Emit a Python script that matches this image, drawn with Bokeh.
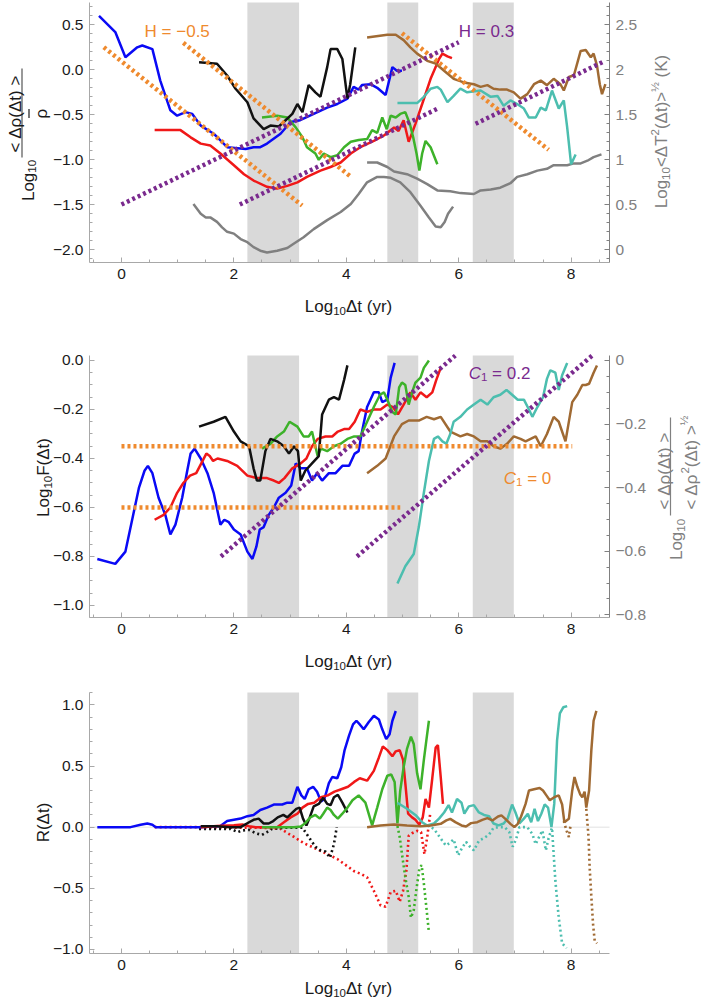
import math
from bokeh.plotting import figure
from bokeh.layouts import column
from bokeh.models import (Range1d, LinearAxis, FixedTicker, BoxAnnotation,
                          Label, CustomJSTickFormatter)
from bokeh.embed import file_html
from bokeh.resources import INLINE

# ======================= DATA =======================
# shaded intervals (Log10 dt)
bands = [(2.24, 3.16), (4.73, 5.28), (6.25, 6.98)]

# ---- Panel 1 : Log10 <drho>/rho  (left axis) ----
blue1_x = [-0.40, -0.11, 0.07, 0.28, 0.37, 0.55, 0.69, 0.87, 0.99, 1.14, 1.26, 1.41, 1.64, 1.88, 2.21, 2.35, 2.47, 2.59, 2.83, 3.01, 3.18, 3.42, 3.66, 3.84, 4.02, 4.13, 4.22, 4.28, 4.43, 4.55, 4.70, 4.82, 4.90, 4.99]
blue1_y = [0.60, 0.42, 0.14, 0.25, 0.27, 0.23, -0.12, -0.45, -0.51, -0.47, -0.49, -0.62, -0.71, -0.86, -0.88, -0.86, -0.86, -0.82, -0.71, -0.58, -0.56, -0.49, -0.42, -0.38, -0.32, -0.19, -0.22, -0.17, -0.16, -0.20, -0.28, 0.03, -0.01, -0.01]
black1_x = [1.38, 1.70, 1.88, 2.03, 2.24, 2.35, 2.53, 2.65, 2.80, 2.92, 3.04, 3.13, 3.22, 3.33, 3.45, 3.54, 3.66, 3.72, 3.84, 3.93, 4.02, 4.07, 4.16]
black1_y = [0.085, 0.067, -0.063, -0.21, -0.36, -0.54, -0.66, -0.62, -0.63, -0.56, -0.49, -0.38, -0.47, -0.17, -0.25, -0.30, 0.03, 0.23, 0.23, 0.12, -0.32, -0.16, 0.25]
red1_x = [0.59, 1.05, 1.23, 1.41, 1.58, 1.76, 2.00, 2.18, 2.35, 2.59, 2.77, 2.95, 3.13, 3.30, 3.54, 3.72, 3.90, 4.08, 4.25, 4.49, 4.67, 4.85, 4.93, 5.02, 5.11, 5.23, 5.35, 5.50, 5.59, 5.65, 5.71, 5.80, 5.88]
red1_y = [-0.67, -0.67, -0.75, -0.82, -0.84, -0.93, -1.06, -1.16, -1.23, -1.30, -1.32, -1.29, -1.25, -1.19, -1.12, -1.08, -1.03, -0.93, -0.86, -0.79, -0.73, -0.64, -0.68, -0.56, -0.80, -0.60, -0.38, -0.10, 0.03, 0.12, 0.18, 0.15, 0.13]
green1_x = [2.50, 2.77, 2.95, 3.10, 3.22, 3.30, 3.45, 3.51, 3.60, 3.72, 3.84, 3.96, 4.08, 4.22, 4.37, 4.46, 4.55, 4.64, 4.72, 4.79, 4.88, 4.96, 5.05, 5.13, 5.19, 5.25, 5.30, 5.35, 5.41, 5.50, 5.62]
green1_y = [-0.53, -0.51, -0.53, -0.64, -0.75, -0.86, -0.93, -1.00, -0.93, -0.97, -0.95, -0.86, -0.80, -0.78, -0.77, -0.67, -0.70, -0.53, -0.66, -0.51, -0.53, -0.49, -0.47, -0.60, -0.75, -0.93, -1.12, -0.93, -0.79, -0.86, -1.05]
brown1_x = [4.37, 4.73, 4.88, 5.02, 5.14, 5.26, 5.44, 5.59, 5.74, 5.91, 6.09, 6.27, 6.39, 6.51, 6.62, 6.74, 6.86, 6.98, 7.10, 7.22, 7.34, 7.46, 7.57, 7.69, 7.81, 7.87, 7.96, 8.05, 8.17, 8.26, 8.35, 8.40, 8.46, 8.51, 8.55, 8.61]
brown1_y = [0.36, 0.39, 0.39, 0.33, 0.25, 0.18, 0.10, 0.07, -0.01, -0.10, -0.14, -0.16, -0.19, -0.17, -0.21, -0.22, -0.22, -0.25, -0.32, -0.27, -0.16, -0.12, -0.17, -0.10, -0.16, -0.23, -0.08, -0.06, 0.21, 0.22, 0.14, 0.18, 0.05, -0.16, -0.27, -0.16]
teal1_x = [4.91, 5.26, 5.38, 5.50, 5.62, 5.68, 5.80, 5.91, 6.03, 6.15, 6.39, 6.57, 6.69, 6.80, 6.92, 7.04, 7.16, 7.25, 7.37, 7.46, 7.55, 7.66, 7.78, 7.87, 7.93, 8.00, 8.08]
teal1_y = [-0.37, -0.37, -0.30, -0.21, -0.19, -0.22, -0.36, -0.29, -0.21, -0.25, -0.23, -0.30, -0.29, -0.40, -0.34, -0.38, -0.43, -0.53, -0.53, -0.42, -0.45, -0.23, -0.43, -0.34, -0.64, -1.05, -0.94]
# temperature fluctuations, right axis (K)
grayA_x = [1.28, 1.41, 1.50, 1.58, 1.70, 1.79, 1.88, 2.00, 2.12, 2.24, 2.35, 2.47, 2.59, 2.77, 2.95, 3.07, 3.24, 3.42, 3.66, 3.90, 4.08, 4.22, 4.37, 4.55, 4.67, 4.79, 4.96, 5.14, 5.32, 5.47, 5.59, 5.68, 5.75, 5.81, 5.90]
grayA_y = [0.51, 0.40, 0.36, 0.36, 0.31, 0.25, 0.20, 0.18, 0.12, 0.085, 0.03, -0.01, -0.03, -0.01, 0.02, 0.07, 0.14, 0.23, 0.33, 0.42, 0.51, 0.62, 0.75, 0.81, 0.81, 0.80, 0.75, 0.64, 0.49, 0.36, 0.26, 0.25, 0.31, 0.40, 0.48]
grayB_x = [4.37, 4.55, 4.73, 4.85, 5.08, 5.26, 5.44, 5.62, 5.85, 6.03, 6.27, 6.39, 6.57, 6.74, 6.92, 7.04, 7.22, 7.40, 7.57, 7.69, 7.93, 8.05, 8.17, 8.29, 8.40, 8.54]
grayB_y = [0.97, 0.97, 0.92, 0.87, 0.84, 0.79, 0.73, 0.66, 0.65, 0.63, 0.62, 0.66, 0.67, 0.69, 0.74, 0.81, 0.84, 0.88, 0.90, 0.94, 0.94, 0.96, 0.96, 0.99, 1.03, 1.06]
# reference slopes H = -0.5 and H = 0.3
hneg_xs = [[-0.315, 3.215], [1.10, 4.075], [4.99, 7.60]]
hneg_ys = [[0.251, -1.508], [0.30, -1.186], [0.407, -0.889]]
hpos_xs = [[0.0, 6.0], [2.105, 5.62], [6.30, 8.58]]
hpos_ys = [[-1.497, 0.307], [-1.497, -0.433], [-0.60, 0.092]]

# ---- Panel 2 : Log10 F(dt) ----
blue2_x = [-0.43, -0.11, 0.07, 0.19, 0.31, 0.41, 0.47, 0.55, 0.66, 0.78, 0.87, 0.96, 1.08, 1.17, 1.23, 1.30, 1.41, 1.53, 1.64, 1.76, 1.83, 1.91, 2.00, 2.12, 2.24, 2.33, 2.40, 2.46, 2.53, 2.62, 2.71, 2.80, 2.92, 3.02, 3.10, 3.19, 3.30, 3.39, 3.48, 3.57, 3.69, 3.81, 3.93, 4.05, 4.15, 4.22, 4.28, 4.37, 4.49, 4.58, 4.64, 4.73, 4.79, 4.86]
blue2_y = [-0.81, -0.83, -0.78, -0.65, -0.52, -0.45, -0.43, -0.46, -0.56, -0.63, -0.71, -0.67, -0.56, -0.45, -0.38, -0.36, -0.40, -0.46, -0.54, -0.67, -0.65, -0.66, -0.69, -0.71, -0.78, -0.81, -0.76, -0.69, -0.68, -0.63, -0.60, -0.56, -0.54, -0.51, -0.42, -0.44, -0.44, -0.49, -0.46, -0.49, -0.46, -0.46, -0.43, -0.43, -0.38, -0.37, -0.29, -0.19, -0.13, -0.13, -0.17, -0.16, -0.07, -0.01]
black2_x = [1.38, 1.64, 1.85, 2.00, 2.12, 2.27, 2.35, 2.41, 2.47, 2.56, 2.65, 2.77, 2.89, 2.98, 3.07, 3.14, 3.19, 3.27, 3.39, 3.51, 3.57, 3.69, 3.78, 3.87, 3.96, 4.02]
black2_y = [-0.27, -0.25, -0.23, -0.29, -0.33, -0.35, -0.44, -0.49, -0.49, -0.37, -0.32, -0.33, -0.35, -0.38, -0.35, -0.37, -0.49, -0.45, -0.42, -0.39, -0.22, -0.16, -0.15, -0.16, -0.08, -0.02]
red2_x = [0.59, 0.75, 0.87, 0.99, 1.10, 1.22, 1.33, 1.42, 1.51, 1.57, 1.63, 1.71, 1.88, 2.06, 2.24, 2.41, 2.59, 2.71, 2.80, 2.90, 3.04, 3.19, 3.29, 3.39, 3.49, 3.63, 3.75, 3.85, 3.96, 4.05, 4.15, 4.25, 4.37, 4.49, 4.61, 4.73, 4.83, 4.92, 5.02, 5.14, 5.23, 5.32, 5.43, 5.53, 5.60, 5.68]
red2_y = [-0.65, -0.63, -0.60, -0.54, -0.50, -0.47, -0.46, -0.42, -0.38, -0.39, -0.41, -0.40, -0.41, -0.43, -0.47, -0.48, -0.48, -0.49, -0.50, -0.48, -0.44, -0.42, -0.40, -0.35, -0.32, -0.31, -0.31, -0.29, -0.28, -0.28, -0.25, -0.20, -0.21, -0.20, -0.20, -0.18, -0.19, -0.22, -0.18, -0.13, -0.16, -0.13, -0.15, -0.13, -0.08, -0.03]
green2_x = [2.50, 2.65, 2.77, 2.89, 2.99, 3.13, 3.24, 3.33, 3.39, 3.49, 3.55, 3.66, 3.78, 3.90, 4.02, 4.14, 4.25, 4.37, 4.49, 4.60, 4.67, 4.73, 4.82, 4.88, 4.94, 4.99, 5.05, 5.11, 5.17, 5.23, 5.32, 5.38, 5.47]
green2_y = [-0.36, -0.34, -0.31, -0.29, -0.25, -0.27, -0.31, -0.31, -0.29, -0.39, -0.36, -0.37, -0.35, -0.34, -0.32, -0.31, -0.31, -0.25, -0.19, -0.14, -0.13, -0.16, -0.21, -0.22, -0.11, -0.09, -0.10, -0.18, -0.13, -0.09, -0.07, -0.03, 0.0]
brown2_x = [4.37, 4.55, 4.70, 4.85, 4.99, 5.11, 5.29, 5.43, 5.56, 5.68, 5.85, 6.03, 6.15, 6.27, 6.39, 6.51, 6.62, 6.74, 6.86, 6.98, 7.10, 7.19, 7.28, 7.37, 7.46, 7.57, 7.69, 7.78, 7.90, 8.02, 8.11, 8.20, 8.26, 8.32, 8.40, 8.46]
brown2_y = [-0.46, -0.43, -0.40, -0.31, -0.26, -0.245, -0.245, -0.23, -0.24, -0.23, -0.29, -0.31, -0.30, -0.31, -0.33, -0.33, -0.35, -0.36, -0.34, -0.31, -0.32, -0.33, -0.32, -0.31, -0.35, -0.30, -0.23, -0.25, -0.33, -0.17, -0.14, -0.10, -0.10, -0.095, -0.05, -0.02]
teal2_x = [4.91, 5.05, 5.20, 5.29, 5.38, 5.47, 5.56, 5.63, 5.71, 5.78, 5.85, 5.91, 6.03, 6.15, 6.27, 6.39, 6.51, 6.62, 6.74, 6.85, 6.95, 7.05, 7.16, 7.25, 7.31, 7.40, 7.50, 7.57, 7.63, 7.72, 7.78, 7.84, 7.93]
teal2_y = [-0.91, -0.84, -0.79, -0.68, -0.54, -0.41, -0.32, -0.31, -0.33, -0.34, -0.30, -0.25, -0.23, -0.20, -0.18, -0.16, -0.18, -0.15, -0.14, -0.12, -0.14, -0.16, -0.16, -0.20, -0.23, -0.19, -0.15, -0.075, -0.04, -0.05, -0.12, -0.06, -0.01]
# reference lines C1 = 0 and C1 = 0.2
c0_xs = [[0.0, 8.02], [0.0, 4.96]]
c0_ys = [[-0.35, -0.35], [-0.60, -0.60]]
c02_xs = [[1.77, 5.94], [4.19, 8.375]]
c02_ys = [[-0.80, 0.02], [-0.80, 0.02]]

# ---- Panel 3 : R(dt), solid = positive part, dotted = negative part ----
blue3_x = [-0.43, 0.16, 0.34, 0.46, 0.55, 0.61, 1.41, 1.76, 1.88, 2.00, 2.12, 2.24, 2.35, 2.47, 2.59, 2.71, 2.86, 2.95, 3.04, 3.13, 3.20, 3.26, 3.33, 3.41, 3.48, 3.55, 3.61, 3.69, 3.75, 3.84, 3.91, 3.97, 4.05, 4.12, 4.18, 4.24, 4.31, 4.40, 4.49, 4.58, 4.64, 4.71, 4.77, 4.82, 4.88]
blue3_y = [0, 0, 0.02, 0.03, 0.02, 0, 0, 0.01, 0.05, 0.06, 0.07, 0.09, 0.10, 0.14, 0.16, 0.185, 0.185, 0.20, 0.20, 0.33, 0.26, 0.23, 0.31, 0.33, 0.29, 0.21, 0.23, 0.36, 0.41, 0.40, 0.49, 0.63, 0.75, 0.84, 0.87, 0.84, 0.80, 0.86, 0.91, 0.88, 0.80, 0.72, 0.76, 0.87, 0.95]
red3_x = [1.41, 1.70, 2.00, 2.15, 2.27, 2.39, 2.77, 2.89, 3.01, 3.13, 3.22, 3.32, 3.43, 3.55, 3.67, 3.79, 3.91, 4.03, 4.14, 4.24, 4.37, 4.49, 4.58, 4.65, 4.73, 4.82, 4.88, 4.95, 5.01, 5.05, 5.10, 5.17, 5.23, 5.30, 5.36, 5.41, 5.47, 5.53, 5.59, 5.63, 5.68, 5.72]
red3_y = [0, 0.01, 0.016, 0.022, 0.008, 0, 0, 0.04, 0.08, 0.11, 0.16, 0.19, 0.20, 0.245, 0.26, 0.29, 0.31, 0.33, 0.37, 0.40, 0.38, 0.46, 0.57, 0.66, 0.63, 0.58, 0.62, 0.63, 0.55, 0.36, 0.11, 0.08, 0.06, 0.02, 0.08, 0.23, 0.16, 0.40, 0.65, 0.67, 0.41, 0.19]
red3n_x = [0.59, 1.41, 2.00, 2.50, 2.83, 3.07, 3.24, 3.48, 3.66, 3.84, 4.02, 4.14, 4.25, 4.37, 4.49, 4.61, 4.70, 4.79, 4.88, 4.95, 5.01, 5.07, 5.11, 5.17, 5.26, 5.33, 5.39, 5.44, 5.49]
red3n_y = [0, 0, -0.005, -0.005, -0.014, -0.08, -0.13, -0.18, -0.22, -0.26, -0.32, -0.36, -0.38, -0.41, -0.52, -0.64, -0.65, -0.53, -0.52, -0.61, -0.52, -0.35, -0.07, -0.05, -0.03, -0.04, -0.22, -0.08, 0.10]
black3_x = [1.41, 1.70, 1.94, 2.12, 2.27, 2.35, 2.44, 2.53, 2.62, 2.70, 2.78, 2.88, 2.95, 3.02, 3.11, 3.17, 3.23, 3.29, 3.35, 3.42, 3.51, 3.59, 3.66, 3.72, 3.78, 3.85, 3.93, 4.02]
black3_y = [0.008, 0.008, 0, 0, 0.04, 0.06, 0.07, 0.03, 0.03, 0.05, 0.08, 0.10, 0.08, 0.11, 0.15, 0.16, 0.07, 0.014, 0.08, 0.17, 0.19, 0.24, 0.19, 0.18, 0.245, 0.265, 0.20, 0.12]
black3n_x = [1.38, 1.58, 1.76, 1.94, 2.07, 2.15, 2.27, 2.39, 2.50, 2.59, 2.68, 2.89, 3.22, 3.33, 3.45, 3.54, 3.63, 3.71, 3.78, 3.83]
black3n_y = [-0.014, -0.014, -0.014, -0.014, -0.04, -0.027, -0.022, -0.05, -0.063, -0.04, -0.014, -0.005, -0.005, -0.08, -0.16, -0.19, -0.20, -0.25, -0.14, 0.0]
green3_x = [2.50, 3.07, 3.19, 3.27, 3.36, 3.45, 3.53, 3.59, 3.66, 3.72, 3.78, 3.85, 3.93, 4.02, 4.11, 4.22, 4.34, 4.46, 4.55, 4.64, 4.73, 4.80, 4.86, 4.91, 4.96, 5.02, 5.08, 5.15, 5.20, 5.26, 5.32, 5.38, 5.43, 5.47]
green3_y = [0, 0, 0.005, 0.033, 0.08, 0.10, 0.07, 0.11, 0.16, 0.14, 0.10, 0.07, 0.11, 0.16, 0.22, 0.26, 0.20, 0.014, 0.16, 0.31, 0.42, 0.43, 0.37, 0.03, 0.30, 0.49, 0.64, 0.74, 0.68, 0.44, 0.31, 0.55, 0.73, 0.87]
green3n_x = [4.91, 4.95, 5.00, 5.05, 5.11, 5.15, 5.20, 5.25, 5.30, 5.34, 5.38, 5.43, 5.47]
green3n_y = [0.01, -0.08, -0.25, -0.41, -0.57, -0.74, -0.68, -0.50, -0.34, -0.31, -0.46, -0.68, -0.86]
teal3_x = [4.91, 5.08, 5.23, 5.35, 5.44, 5.56, 5.65, 5.74, 5.82, 5.88, 5.97, 6.05, 6.10, 6.18, 6.27, 6.36, 6.45, 6.54, 6.62, 6.71, 6.80, 6.87, 6.95, 7.01, 7.08, 7.16, 7.23, 7.29, 7.35, 7.41, 7.47, 7.53, 7.59, 7.65, 7.70, 7.75, 7.80, 7.86, 7.93]
teal3_y = [0.20, 0.15, 0.10, 0.04, 0.014, 0.03, 0.07, 0.12, 0.18, 0.12, 0.23, 0.20, 0.11, 0.17, 0.18, 0.12, 0.10, 0.09, 0.03, 0.014, 0.03, 0.07, 0.185, 0.12, 0.03, 0.07, 0.11, 0.04, 0.15, 0.05, 0.11, 0.185, 0.16, 0.0, 0.19, 0.71, 0.93, 0.98, 0.99]
teal3n_x = [5.44, 5.56, 5.66, 5.77, 5.84, 5.91, 5.99, 6.06, 6.13, 6.20, 6.27, 6.36, 6.45, 6.54, 6.62, 6.73, 6.82, 6.90, 6.96, 7.02, 7.08, 7.22, 7.31, 7.37, 7.43, 7.49, 7.55, 7.60, 7.66, 7.72, 7.78, 7.84, 7.92]
teal3n_y = [0.014, -0.014, -0.08, -0.15, -0.13, -0.10, -0.23, -0.17, -0.12, -0.16, -0.19, -0.11, -0.09, -0.06, -0.005, 0.0, 0.0, -0.04, -0.16, -0.10, 0.0, 0.0, -0.055, -0.14, -0.08, -0.027, -0.19, -0.09, -0.005, -0.44, -0.74, -0.95, -0.99]
brown3_x = [4.37, 4.61, 4.85, 5.08, 5.32, 5.50, 5.68, 5.78, 5.85, 5.94, 6.05, 6.13, 6.22, 6.33, 6.42, 6.51, 6.60, 6.70, 6.76, 6.83, 6.92, 6.99, 7.05, 7.11, 7.19, 7.25, 7.34, 7.44, 7.50, 7.56, 7.62, 7.70, 7.78, 7.84, 7.88, 7.96, 8.02, 8.06, 8.11, 8.16, 8.20, 8.24, 8.27, 8.32, 8.36, 8.40, 8.45]
brown3_y = [0, 0.014, 0.022, 0.014, 0.008, 0.014, 0.027, 0.055, 0.068, 0.041, 0.014, 0.005, 0.033, 0.041, 0.06, 0.074, 0.055, 0.087, 0.096, 0.068, 0.027, 0.0, 0.027, 0.087, 0.19, 0.30, 0.31, 0.32, 0.30, 0.26, 0.22, 0.245, 0.26, 0.185, 0.041, 0.068, 0.30, 0.41, 0.33, 0.27, 0.245, 0.29, 0.16, 0.30, 0.63, 0.87, 0.95]
brown3n_xs = [[7.87, 7.92, 7.96, 7.99], [8.27, 8.31, 8.33, 8.36, 8.39, 8.42, 8.46]]
brown3n_ys = [[0.05, -0.03, -0.08, 0.014], [0.15, -0.08, -0.33, -0.57, -0.79, -0.93, -0.95]]

# axis ticks
x_ticks = [0, 2, 4, 6, 8]
x_minor = [round(-0.5 + 0.5 * i, 1) for i in range(19)]
p1_ticks = [-2.0, -1.5, -1.0, -0.5, 0.0, 0.5]
p1_minor = [round(-2.1 + 0.1 * i, 1) for i in range(29)]
p1r_ticks = [0.0, 0.5, 1.0, 1.5, 2.0, 2.5]
p1r_minor = [round(-0.1 + 0.1 * i, 1) for i in range(29)]
p2_ticks = [-1.0, -0.8, -0.6, -0.4, -0.2, 0.0]
p2_minor = [round(-1.05 + 0.05 * i, 2) for i in range(22)]
p2r_ticks = [-0.8, -0.6, -0.4, -0.2, 0.0]
p2r_minor = [round(-0.8 + 0.05 * i, 2) for i in range(17)]
p3_ticks = [-1.0, -0.5, 0.0, 0.5, 1.0]
p3_minor = [round(-1.0 + 0.1 * i, 1) for i in range(22)]

# ======================= STYLE / LAYOUT =======================
FONT = "Liberation Sans"
C_BLUE, C_RED, C_GREEN, C_BLACK = "#0A0AF5", "#F01818", "#3DB22A", "#111111"
C_BROWN, C_TEAL, C_GRAY = "#A06A33", "#4CBEAF", "#808080"
C_ORANGE, C_PURPLE = "#EF8A2E", "#7A2A8E"
C_BAND = "#D9D9D9"
C_AXIS = "#A8A8A8"
C_TXT = "#1A1A1A"
LW = 2.5
FS = 17      # label font size
SS = 11.5    # sub/superscript font size

PAGE_W = 701
FL, FR = 89, 609            # plot-area left/right (page px)
X_LO, X_HI = -0.569, 8.683  # data x at FL / FR

# Arial / Liberation Sans advance widths (1/1000 em)
ADV = {' ': 278, '(': 333, ')': 333, '<': 584, '>': 584, '=': 584, '.': 278,
       'L': 556, 'o': 556, 'g': 556, 't': 278, 'y': 500, 'r': 333, 'F': 611,
       'R': 722, 'T': 611, 'K': 667, 'H': 722, 'C': 722, '\u0394': 668,
       '\u03c1': 578, '\u2212': 584, '\u00bd': 834}


def tw(s, size):
    return sum(ADV.get(ch, 556) for ch in s) * size / 1000.0


def dx(px):
    return X_LO + (px - FL) / (FR - FL) * (X_HI - X_LO)


def fmt_code(mode):
    if mode == "int":
        return "return (tick < 0 ? '\u2212' : '') + Math.abs(tick).toFixed(0);"
    if mode == "one":
        return "return (tick < -1e-9 ? '\u2212' : '') + Math.abs(tick).toFixed(1);"
    if mode == "onez":
        return ("if (Math.abs(tick) < 1e-9) return '0';"
                "return (tick < -1e-9 ? '\u2212' : '') + Math.abs(tick).toFixed(1);")
    return ("var s = Math.abs(tick).toFixed(1).replace(/\\.0$/, '');"
            "return (tick < -1e-9 ? '\u2212' : '') + s;")


def style_axis(ax, ticks, minor, mode, label_color=C_TXT, line_color=C_AXIS):
    ax.ticker = FixedTicker(ticks=ticks, minor_ticks=minor)
    ax.formatter = CustomJSTickFormatter(code=fmt_code(mode))
    ax.major_tick_in = 5
    ax.major_tick_out = 0
    ax.minor_tick_in = 3
    ax.minor_tick_out = 0
    ax.axis_line_color = line_color
    ax.major_tick_line_color = line_color
    ax.minor_tick_line_color = line_color
    ax.major_label_text_font = FONT
    ax.major_label_text_font_size = "15.5px"
    ax.major_label_text_color = label_color
    ax.major_label_standoff = 6


ROT = math.pi / 2


class Panel:
    """A figure whose frame fills its whole canvas; axes are placed at fixed data positions."""

    def __init__(self, height, page_off, ftop, fbot, ylo, yhi):
        self.ftop, self.fbot = ftop, fbot
        self.ylo, self.yhi = ylo, yhi
        y_start = self.dy(page_off + height)
        y_end = self.dy(page_off)
        self.y_start, self.y_end = y_start, y_end
        p = figure(width=PAGE_W, height=height, x_range=Range1d(dx(0), dx(PAGE_W)),
                   y_range=Range1d(y_start, y_end), output_backend="svg",
                   toolbar_location=None, x_axis_location=None, y_axis_location=None,
                   min_border=0)
        p.outline_line_color = None
        p.grid.visible = False
        p.background_fill_color = "white"
        p.border_fill_color = "white"
        for a, b in bands:
            p.add_layout(BoxAnnotation(left=a, right=b, bottom=ylo, top=yhi,
                                       fill_color=C_BAND, fill_alpha=1.0,
                                       line_alpha=0, level="underlay"))
        xa = LinearAxis(fixed_location=ylo, bounds=(X_LO, X_HI))
        style_axis(xa, x_ticks, x_minor, "int")
        p.add_layout(xa, "below")
        self.p = p

    def dy(self, py):
        return self.yhi - (py - self.ftop) / (self.fbot - self.ftop) * (self.yhi - self.ylo)

    def left_axis(self, ticks, minor, mode):
        ya = LinearAxis(fixed_location=X_LO, bounds=(self.ylo, self.yhi))
        style_axis(ya, ticks, minor, mode)
        self.p.add_layout(ya, "left")

    def right_axis(self, scale, shift, ticks, minor, mode):
        f = lambda v: v * scale + shift
        self.p.extra_y_ranges = {"r": Range1d(f(self.y_start), f(self.y_end))}
        ra = LinearAxis(y_range_name="r", fixed_location=X_HI,
                        bounds=(f(self.ylo), f(self.yhi)))
        style_axis(ra, ticks, minor, mode, label_color=C_GRAY, line_color=C_GRAY)
        self.p.add_layout(ra, "right")

    def _lab(self, px, py, s, size, color, angle, style="normal"):
        self.p.add_layout(Label(x=dx(px), y=self.dy(py), text=s, angle=angle,
                                text_align="left", text_baseline="alphabetic",
                                text_font=FONT, text_font_size=f"{size}px",
                                text_color=color, text_font_style=style))

    def rich(self, cx, cy, segs, color=C_TXT, rot=False):
        """segs: (text, size, baseline shift up in px, style); centred on (cx, cy).
        Leading spaces are turned into an advance (SVG drops them)."""
        total = sum(tw(t, sz) for t, sz, sh, st in segs)
        cap = 0.358 * segs[0][1]
        if not rot:
            x, base = cx - total / 2.0, cy + cap
        else:
            y, base = cy + total / 2.0, cx + cap
        for t, sz, sh, st in segs:
            body = t.lstrip(" ")
            lead = tw(t[:len(t) - len(body)], sz)
            if not rot:
                self._lab(x + lead, base - sh, body, sz, color, 0.0, st)
                x += tw(t, sz)
            else:
                self._lab(base - sh, y - lead, body, sz, color, ROT, st)
                y -= tw(t, sz)

    def bar(self, px, py0, py1, color):
        self.p.line([dx(px), dx(px)], [self.dy(py0), self.dy(py1)], line_color=color,
                    line_width=1.2)


N = "normal"
XLABEL = [("Log", FS, 0, N), ("10", SS, -4, N), ("\u0394t (yr)", FS, 0, N)]
LOG10 = [("Log", FS, 0, N), ("10", SS, -4, N)]

# ---------------- Panel 1 (page y 0-330) ----------------
P1 = Panel(330, 0, 2, 262, -2.141, 0.748)
p1 = P1.p
P1.left_axis(p1_ticks, p1_minor, "one")
P1.right_axis(1.0, 2.0, p1r_ticks, p1r_minor, "trim")

p1.line(grayA_x, grayA_y, y_range_name="r", line_color=C_GRAY, line_width=LW)
p1.line(grayB_x, grayB_y, y_range_name="r", line_color=C_GRAY, line_width=LW)
p1.line(red1_x, red1_y, line_color=C_RED, line_width=LW)
p1.line(blue1_x, blue1_y, line_color=C_BLUE, line_width=LW)
p1.line(green1_x, green1_y, line_color=C_GREEN, line_width=LW)
p1.line(black1_x, black1_y, line_color=C_BLACK, line_width=LW)
p1.line(brown1_x, brown1_y, line_color=C_BROWN, line_width=LW)
p1.line(teal1_x, teal1_y, line_color=C_TEAL, line_width=LW)
p1.multi_line(hneg_xs, hneg_ys, line_color=C_ORANGE, line_width=4.5, line_dash="3 3")
p1.multi_line(hpos_xs, hpos_ys, line_color=C_PURPLE, line_width=4.5, line_dash="3 3")

P1.rich(176.7, 25, [("H = \u22120.5", FS, 0, N)], color=C_ORANGE)
P1.rich(486, 25, [("H = 0.3", FS, 0, N)], color=C_PURPLE)
P1.rich(348, 300, XLABEL)
# left label : Log10 <drho(dt)> / rho-bar
P1.rich(21.5, 180, LOG10, rot=True)
P1.bar(21.5, 68, 157, "#555555")
P1.rich(9, 113, [("< \u0394\u03c1(\u0394t) >", FS, 0, N)], rot=True)
P1.rich(35, 113, [("\u03c1", FS, 0, N)], rot=True)
P1.bar(28.5, 108.5, 117.5, C_TXT)
# right label : Log10 <dT^2(dt)>^(1/2) (K)
P1.rich(655, 131, LOG10 + [("<\u0394T", FS, 0, N), ("2", SS, 7, N), ("(\u0394t)>", FS, 0, N),
                           ("\u00bd", SS, 7, N), (" (K)", FS, 0, N)], color=C_GRAY, rot=True)

# ---------------- Panel 2 (page y 330-680) ----------------
P2 = Panel(350, 330, 355, 617, -1.049, 0.0204)
p2 = P2.p
P2.left_axis(p2_ticks, p2_minor, "one")
P2.right_axis(0.7705, 0.0, p2r_ticks, p2r_minor, "onez")

p2.line(blue2_x, blue2_y, line_color=C_BLUE, line_width=LW)
p2.line(red2_x, red2_y, line_color=C_RED, line_width=LW)
p2.line(green2_x, green2_y, line_color=C_GREEN, line_width=LW)
p2.line(black2_x, black2_y, line_color=C_BLACK, line_width=LW)
p2.line(brown2_x, brown2_y, line_color=C_BROWN, line_width=LW)
p2.line(teal2_x, teal2_y, line_color=C_TEAL, line_width=LW)
p2.multi_line(c0_xs, c0_ys, line_color=C_ORANGE, line_width=4.5, line_dash="3 3")
p2.multi_line(c02_xs, c02_ys, line_color=C_PURPLE, line_width=4.5, line_dash="3 3")

P2.rich(499, 366.7, [("C", FS, 0, "italic"), ("1", SS, -4, N), (" = 0.2", FS, 0, N)],
        color=C_PURPLE)
P2.rich(527, 471.7, [("C", FS, 0, "italic"), ("1", SS, -4, N), (" = 0", FS, 0, N)],
        color=C_ORANGE)
P2.rich(348, 655, XLABEL)
P2.rich(37, 477, LOG10 + [("F(\u0394t)", FS, 0, N)], rot=True)
# right label : Log10 <drho(dt)> / <drho^2(dt)>^(1/2)
P2.rich(658, 470, [("< \u0394\u03c1(\u0394t) >", FS, 0, N)], color=C_GRAY, rot=True)
P2.bar(670, 417, 515, C_GRAY)
P2.rich(685, 462, [("< \u0394\u03c1", FS, 0, N), ("2", SS, 7, N), ("(\u0394t) >", FS, 0, N),
                   ("\u00bd", SS, 8, N)], color=C_GRAY, rot=True)
P2.rich(670, 539, LOG10, color=C_GRAY, rot=True)

# ---------------- Panel 3 (page y 680-1000) ----------------
P3 = Panel(320, 680, 692, 953, -1.033, 1.101)
p3 = P3.p
P3.left_axis(p3_ticks, p3_minor, "one")
p3.line([X_LO, X_HI], [0, 0], line_color="#EBEBEB", line_width=1.5, level="underlay")

DOT = "2 3"
p3.line(red3n_x, red3n_y, line_color=C_RED, line_width=2.6, line_dash=DOT)
p3.line(black3n_x, black3n_y, line_color=C_BLACK, line_width=2.6, line_dash=DOT)
p3.line(green3n_x, green3n_y, line_color=C_GREEN, line_width=2.6, line_dash=DOT)
p3.line(teal3n_x, teal3n_y, line_color=C_TEAL, line_width=2.6, line_dash=DOT)
p3.multi_line(brown3n_xs, brown3n_ys, line_color=C_BROWN, line_width=2.6, line_dash=DOT)
p3.line(blue3_x, blue3_y, line_color=C_BLUE, line_width=LW)
p3.line(red3_x, red3_y, line_color=C_RED, line_width=LW)
p3.line(black3_x, black3_y, line_color=C_BLACK, line_width=LW)
p3.line(green3_x, green3_y, line_color=C_GREEN, line_width=LW)
p3.line(teal3_x, teal3_y, line_color=C_TEAL, line_width=LW)
p3.line(brown3_x, brown3_y, line_color=C_BROWN, line_width=LW)

P3.rich(348, 982, XLABEL)
P3.rich(37, 822, [("R(\u0394t)", FS, 0, N)], rot=True)

layout = column(p1, p2, p3, spacing=0)
open("out.html", "w").write(file_html(layout, INLINE))
